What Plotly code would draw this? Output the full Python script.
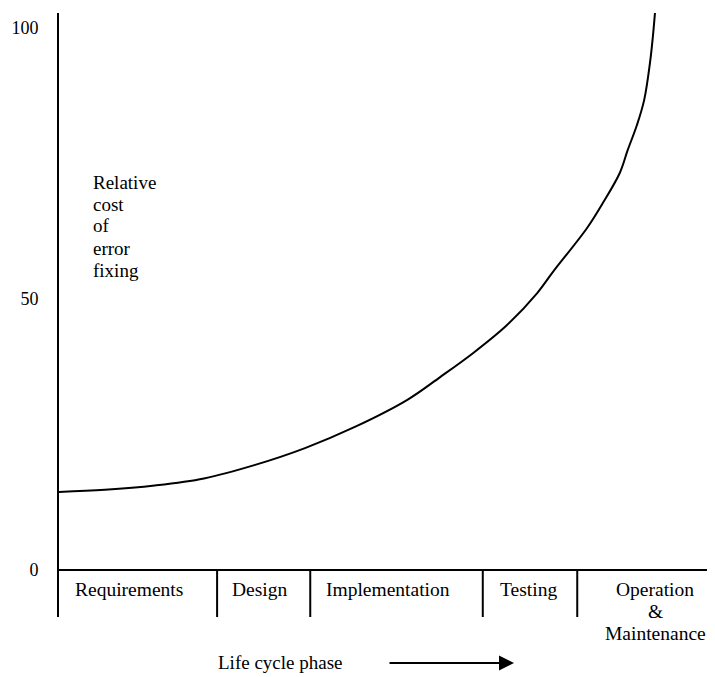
import plotly.graph_objects as go

# Life-cycle position (0..100 along the horizontal axis) and relative cost of error fixing
life_pos = [0, 7.0, 14.6, 22.1, 29.9, 37.5, 45.1, 53.1, 58.1, 63.1, 68.3, 72.9, 75.3,
            80.5, 82.9, 85.5, 86.7, 88.1, 89.2, 90.1, 90.55, 90.85]
rel_cost = [14.4, 14.8, 15.6, 16.9, 19.4, 22.5, 26.4, 31.4, 35.6, 40.0, 45.2, 51.1, 55.0,
            63.1, 67.7, 73.3, 77.5, 82.1, 86.7, 93.7, 98.7, 102.8]

phase_lines = [["Requirements"], ["Design"], ["Implementation"], ["Testing"],
               ["Operation", "&", "Maintenance"]]
phase_centers = [10.6, 30.6, 50.1, 71.5, 90.9]
phase_bounds = [24.1, 38.3, 64.6, 79.0]

y_title_lines = ["Relative", "cost", "of", "error", "fixing"]
x_title = "Life cycle phase"

y_ticks = [0, 50, 100]
y_min, y_max = -8.67, 102.77

FONT = "Liberation Serif"
BLACK = "black"

# page body has an 8px default margin; compensate so the plot lands where the reference has it
OFF = 8
PLOT_TOP, PLOT_BOTTOM, PLOT_LEFT, PLOT_W = 13, 617, 59, 656
PLOT_H = PLOT_BOTTOM - PLOT_TOP


def py2paper(py):
    return (PLOT_BOTTOM - py) / PLOT_H


def px2paper(px):
    return (px - PLOT_LEFT) / PLOT_W


fig = go.Figure()

fig.add_trace(go.Scatter(x=life_pos, y=rel_cost, mode="lines",
                         line=dict(color=BLACK, width=2, shape="spline", smoothing=1.0),
                         hoverinfo="skip", showlegend=False))

sx, sy = [], []
for b in phase_bounds:
    sx += [b, b, None]
    sy += [0, y_min, None]
fig.add_trace(go.Scatter(x=sx, y=sy, mode="lines", line=dict(color=BLACK, width=2),
                         hoverinfo="skip", showlegend=False))

label_font = dict(family=FONT, size=19.5, color=BLACK)
row_y = [589, 611, 633]
for lines, cx in zip(phase_lines, phase_centers):
    for i, txt in enumerate(lines):
        fig.add_annotation(xref="x", yref="paper", x=cx, y=py2paper(row_y[i]), text=txt,
                           showarrow=False, xanchor="center", yanchor="middle", font=label_font)

title_font = dict(family=FONT, size=19, color=BLACK)
for i, txt in enumerate(y_title_lines):
    fig.add_annotation(xref="paper", yref="paper", x=px2paper(91), y=py2paper(182 + 22 * i),
                       text=txt, showarrow=False, xanchor="left", yanchor="middle",
                       font=title_font)

fig.add_annotation(xref="paper", yref="paper", x=px2paper(280), y=py2paper(662),
                   text=x_title, showarrow=False, xanchor="center", yanchor="middle",
                   font=title_font)
fig.add_annotation(xref="paper", yref="paper", x=px2paper(514), y=py2paper(663),
                   ax=-126, ay=0, text="", showarrow=True, arrowhead=2, arrowsize=1.5,
                   arrowwidth=2, arrowcolor=BLACK)

fig.update_layout(
    width=715 - OFF, height=677 - OFF,
    margin=dict(l=PLOT_LEFT - OFF, r=0, t=PLOT_TOP - OFF, b=PLOT_BOTTOM and (677 - PLOT_BOTTOM)),
    paper_bgcolor="white", plot_bgcolor="white",
    font=dict(family=FONT, size=18, color=BLACK),
    xaxis=dict(range=[0, 100], showline=False, showgrid=False, zeroline=False,
               showticklabels=False, ticks="", fixedrange=True),
    yaxis=dict(range=[y_min, y_max], showline=True, linecolor=BLACK, linewidth=2,
               showgrid=False, zeroline=True, zerolinecolor=BLACK, zerolinewidth=2,
               tickvals=y_ticks, ticktext=[str(v) for v in y_ticks], ticks="",
               ticklabelstandoff=15, tickfont=dict(family=FONT, size=18, color=BLACK),
               fixedrange=True),
)

fig.write_html("out.html")
